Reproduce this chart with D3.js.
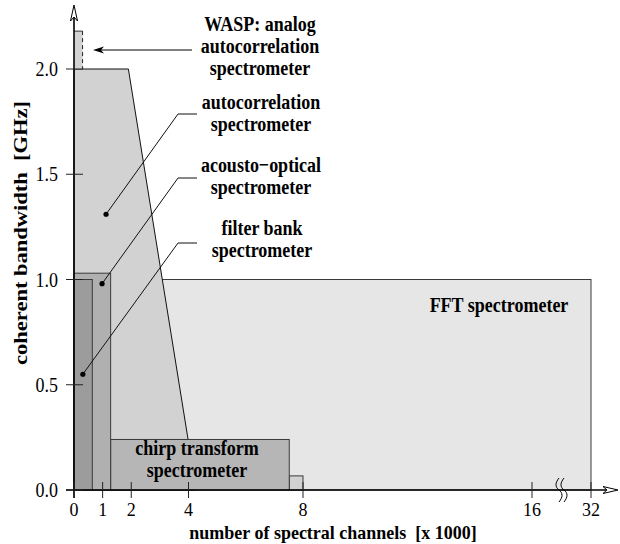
<!DOCTYPE html>
<html><head><meta charset="utf-8">
<script src="https://cdn.jsdelivr.net/npm/d3@7"></script>
<style>body{margin:0;background:#fff}svg{display:block}text{font-family:"Liberation Serif","Times New Roman",serif}</style>
</head><body>
<script>
// ---- data (channels in units of 1000, bandwidth in GHz) ----
const xTicks = [0, 1, 2, 4, 8, 16, 32];
const yTicks = [0.0, 0.5, 1.0, 1.5, 2.0];
const fftChannels = [0, 32];        const fftBandwidth = 1.0;
const autocorrChannels = [0, 0, 1.9, 4.27];
const autocorrBandwidth = [0, 2.0, 2.0, 0];
const waspChannels = [0, 0.3];      const waspBandwidth = 2.18;
const chirpChannels = [1.28, 7.52]; const chirpBandwidth = 0.24;
const chirpTailChannels = [7.52, 8]; const chirpTailBandwidth = 0.067;
const aosChannels = [0, 1.28];      const aosBandwidth = 1.03;
const filterChannels = [0, 0.64];   const filterBandwidth = 1.0;
const waspLabel = ["WASP: analog", "autocorrelation", "spectrometer"];
const autocorrLabel = ["autocorrelation", "spectrometer"];
const aosLabel = ["acousto\u2212optical", "spectrometer"];
const filterLabel = ["filter bank", "spectrometer"];
const fftLabel = ["FFT spectrometer"];
const chirpLabel = ["chirp transform", "spectrometer"];
// annotation dots (data coords)
const dotAutocorr = [1.12, 1.31];
const dotAos = [0.98, 0.98];
const dotFilter = [0.31, 0.55];

const W = 620, H = 544, SY = 1.2;
const svg = d3.select("body").append("svg").attr("width", W).attr("height", H);
const x = d3.scaleLinear().domain([0, 16, 32]).range([74, 532, 591]);
const y = d3.scaleLinear().domain([0, 2]).range([490, 69]);

function txt(str, tx, ty, anchor, bold, sy) {
  return svg.append("text")
    .attr("transform", `translate(${tx},${ty}) scale(1,${sy || SY})`)
    .attr("text-anchor", anchor).attr("font-size", 18)
    .attr("font-weight", bold ? "bold" : "normal")
    .attr("xml:space", "preserve").text(str);
}
function rect(ch, bw, fill) {
  return svg.append("rect")
    .attr("x", x(ch[0])).attr("y", y(bw))
    .attr("width", x(ch[1]) - x(ch[0])).attr("height", y(0) - y(bw))
    .attr("fill", fill).attr("stroke", "#3a3a3a").attr("stroke-width", 1);
}
// FFT
rect(fftChannels, fftBandwidth, "#e6e6e6");
// autocorrelation polygon
svg.append("path")
  .attr("d", d3.line()(autocorrChannels.map((c, i) => [x(c), y(autocorrBandwidth[i])])) + "Z")
  .attr("fill", "#d2d2d2").attr("stroke", "#111").attr("stroke-width", 1);
rect(chirpTailChannels, chirpTailBandwidth, "#d2d2d2");
rect(chirpChannels, chirpBandwidth, "#b6b6b6");
rect(aosChannels, aosBandwidth, "#b0b0b0");
rect(filterChannels, filterBandwidth, "#9c9c9c");
// WASP
svg.append("rect").attr("x", x(waspChannels[0])).attr("y", y(waspBandwidth))
  .attr("width", x(waspChannels[1]) - x(waspChannels[0])).attr("height", y(2.0) - y(waspBandwidth))
  .attr("fill", "#d2d2d2");
svg.append("line").attr("x1", x(waspChannels[0])).attr("x2", x(waspChannels[1]))
  .attr("y1", y(waspBandwidth)).attr("y2", y(waspBandwidth)).attr("stroke", "#333");
svg.append("line").attr("x1", x(waspChannels[1])).attr("x2", x(waspChannels[1]))
  .attr("y1", y(waspBandwidth)).attr("y2", y(2.0)).attr("stroke", "#222")
  .attr("stroke-dasharray", "4,3");

// axes
const ax = svg.append("g").attr("stroke", "#000");
ax.append("line").attr("x1", 74).attr("x2", 74).attr("y1", y(0) + 8).attr("y2", 8).attr("stroke-width", 1.6);
ax.append("line").attr("x1", 66).attr("x2", 606).attr("y1", y(0)).attr("y2", y(0)).attr("stroke-width", 1.6);
svg.append("path").attr("d", "M70.5,21 L74,5 L77.5,21 L74,17 Z").attr("fill", "#fff").attr("stroke", "#000").attr("stroke-width", 1);
svg.append("path").attr("d", "M603,486.5 L618,490 L603,493.5 L607,490 Z").attr("fill", "#fff").attr("stroke", "#000").attr("stroke-width", 1);

yTicks.forEach(v => {
  svg.append("line").attr("x1", 66).attr("x2", 83).attr("y1", y(v)).attr("y2", y(v)).attr("stroke", "#222");
  txt(v.toFixed(1), 58, y(v) + 7, "end", false);
});
xTicks.forEach(v => {
  svg.append("line").attr("x1", x(v)).attr("x2", x(v)).attr("y1", y(0) - 8).attr("y2", y(0) + 8).attr("stroke", "#222");
  txt(String(v), x(v), 516, "middle", false, 1.1);
});
// axis break
[559, 564].forEach(bx => {
  svg.append("path").attr("d", `M${bx},478 C${bx-4},483 ${bx-4},487 ${bx},490 C${bx+4},493 ${bx+4},497 ${bx},502`)
    .attr("fill", "none").attr("stroke", "#000").attr("stroke-width", 1);
});

// axis titles
txt("number of spectral channels  [x 1000]", 333, 539, "middle", true, 1.1);
svg.append("text")
  .attr("transform", `translate(27,233) scale(1,1.25) rotate(-90)`)
  .attr("text-anchor", "middle").attr("font-size", 18).attr("font-weight", "bold")
  .attr("xml:space", "preserve").text("coherent bandwidth  [GHz]");

// labels
function label(lines, cx, yc) {
  const n = lines.length, lh = 22;
  lines.forEach((l, i) => txt(l, cx, yc + (i - (n - 1) / 2) * lh + 6, "middle", true));
}
label(waspLabel, 260, 47);
label(autocorrLabel, 261, 114);
label(aosLabel, 261, 177);
label(filterLabel, 262, 240);
label(fftLabel, 499, 306);
label(chirpLabel, 197, 460);

// WASP arrow
svg.append("line").attr("x1", 98).attr("x2", 192).attr("y1", 50).attr("y2", 50).attr("stroke", "#000");
svg.append("path").attr("d", "M93,50 L104,46.5 L101,50 L104,53.5 Z").attr("fill", "#000");

// leaders
function leader(ly, dot) {
  svg.append("path").attr("d", `M197,${ly} L178,${ly} L${x(dot[0])},${y(dot[1])}`)
    .attr("fill", "none").attr("stroke", "#111").attr("stroke-width", 1);
  svg.append("circle").attr("cx", x(dot[0])).attr("cy", y(dot[1])).attr("r", 2.6).attr("fill", "#000");
}
leader(114, dotAutocorr);
leader(178, dotAos);
leader(243, dotFilter);
</script>
</body></html>
